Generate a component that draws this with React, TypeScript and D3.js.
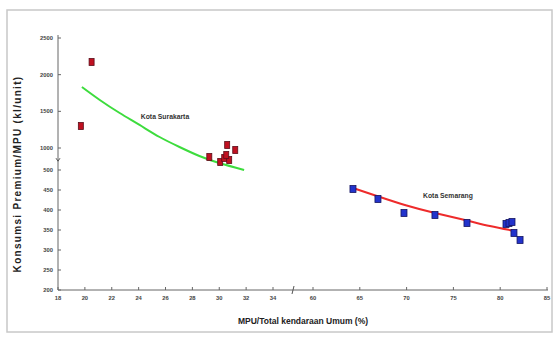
import React from "react";
import * as d3 from "d3";

// Share of MPU among public vehicles (%) vs premium fuel use per MPU
const surakartaX = [19.7, 20.5, 29.26, 30.07, 30.37, 30.59, 30.74, 31.19, 30.52];
const surakartaY = [1300, 2173, 795, 682, 773, 1041, 727, 955, 841];
const surakartaTrendX = [19.78, 21.11, 22.59, 24.07, 25.56, 27.04, 28.52, 30.0, 31.85];
const surakartaTrendY = [1832, 1655, 1477, 1314, 1150, 1014, 818, 659, 500];

const semarangX = [64.27, 66.94, 69.72, 73.03, 76.45, 80.62, 80.94, 81.26, 81.47, 82.12];
const semarangY = [452.5, 427.5, 392.5, 387.5, 367.5, 365, 367.5, 370, 342.5, 325];
const semarangTrendX = [64.27, 67.14, 69.81, 73.03, 76.23, 78.9, 81.58];
const semarangTrendY = [455, 432.5, 412.5, 392.5, 375, 360, 347.5];

const xTicks = [18, 20, 22, 24, 26, 28, 30, 32, 34, 60, 65, 70, 75, 80, 85];
const yTicks = [200, 250, 300, 350, 400, 450, 500, 1000, 1500, 2000, 2500];

const W = 554;
const H = 338;

export default function App() {
  // Both axes are broken, so the scales are piecewise linear
  const x = d3.scaleLinear().domain([18, 34, 60, 85]).range([58, 273, 313, 547]);
  const y = d3.scaleLinear().domain([200, 500, 1000, 2500]).range([290, 170, 148, 38]);

  const line = d3
    .line<[number, number]>()
    .x((d) => x(d[0]))
    .y((d) => y(d[1]))
    .curve(d3.curveNatural);

  const greenPath = line(surakartaTrendX.map((v, i) => [v, surakartaTrendY[i]]));
  const redPath = line(semarangTrendX.map((v, i) => [v, semarangTrendY[i]]));

  const font = "'Liberation Sans', Arial, sans-serif";
  const x0 = x(18);
  const y0 = y(200);

  return (
    <svg
      width={W}
      height={H}
      style={{ position: "absolute", left: 0, top: 0, background: "#fff" }}
      fontFamily={font}
    >
      <rect x={7} y={10} width={545} height={322} fill="#fff" stroke="#c8c8c8" strokeWidth={1.5} />

      {/* y axis */}
      <line x1={x0} x2={x0} y1={35} y2={y0} stroke="#666" strokeWidth={1} />
      {yTicks.map((t) => (
        <g key={"y" + t}>
          <line x1={x0} x2={x0 + 3} y1={y(t)} y2={y(t)} stroke="#666" />
          <text x={x0 - 5} y={y(t) + 2} fontSize={5.8} fontWeight="bold" fill="#444" textAnchor="end">
            {t}
          </text>
        </g>
      ))}
      {/* y axis break */}
      <path d={`M${x0 - 2},${y(700) - 3} L${x0},${y(700)} L${x0 + 2},${y(700) - 3}`} fill="none" stroke="#555" />

      {/* x axis */}
      <line x1={x0} x2={548} y1={y0} y2={y0} stroke="#666" strokeWidth={1} />
      {xTicks.map((t) => (
        <g key={"x" + t}>
          <line x1={x(t)} x2={x(t)} y1={y0} y2={y0 - 3} stroke="#666" />
          <text x={x(t)} y={y0 + 10} fontSize={5.8} fontWeight="bold" fill="#444" textAnchor="middle">
            {t}
          </text>
        </g>
      ))}
      {/* x axis break */}
      <line x1={292} x2={294} y1={y0 + 4} y2={y0 - 4} stroke="#555" />

      {/* trend curves */}
      <path d={greenPath ?? ""} fill="none" stroke="#3ddc3d" strokeWidth={2} />
      <path d={redPath ?? ""} fill="none" stroke="#ee2b2b" strokeWidth={2} />

      {/* observations */}
      {surakartaX.map((v, i) => (
        <rect
          key={"s" + i}
          x={x(v) - 2.5}
          y={y(surakartaY[i]) - 3.5}
          width={5}
          height={7}
          fill="#c01020"
          stroke="#5a0e1a"
          strokeWidth={0.8}
        />
      ))}
      {semarangX.map((v, i) => (
        <rect
          key={"m" + i}
          x={x(v) - 3}
          y={y(semarangY[i]) - 3.5}
          width={6}
          height={7}
          fill="#2233cc"
          stroke="#151560"
          strokeWidth={0.8}
        />
      ))}

      <text x={165} y={119} fontSize={6.8} fontWeight="bold" fill="#333" textAnchor="middle">
        Kota Surakarta
      </text>
      <text x={448} y={198} fontSize={6.8} fontWeight="bold" fill="#333" textAnchor="middle">
        Kota Semarang
      </text>

      <text x={303} y={324} fontSize={8.5} fontWeight="bold" fill="#222" textAnchor="middle">
        MPU/Total kendaraan Umum (%)
      </text>
      <text
        transform={`translate(21,174) rotate(-90)`}
        fontSize={10}
        fontWeight="bold"
        fill="#222"
        textAnchor="middle"
        letterSpacing={1.3}
      >
        Konsumsi Premium/MPU (kl/unit)
      </text>
    </svg>
  );
}
